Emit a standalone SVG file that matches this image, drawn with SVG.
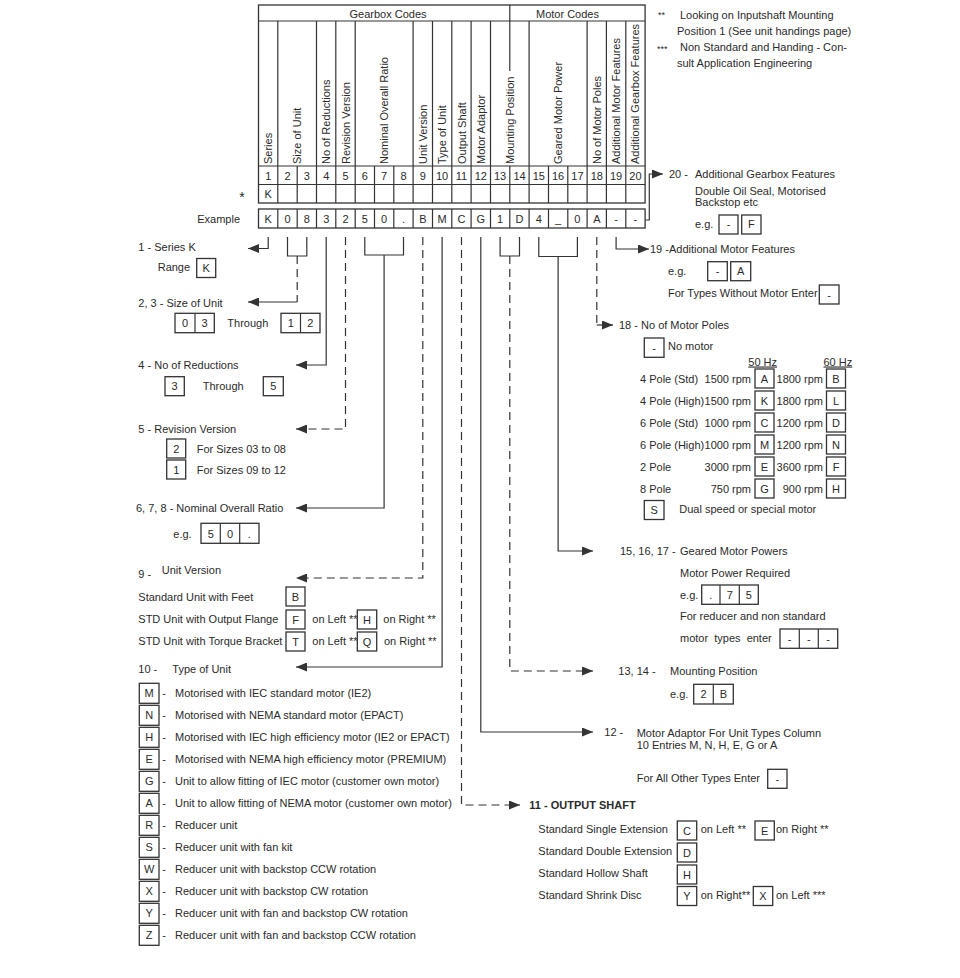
<svg xmlns="http://www.w3.org/2000/svg" width="960" height="978" viewBox="0 0 960 978">
<style>
text{font-family:"Liberation Sans",Arial,sans-serif;font-size:11px;fill:#2b2b2b}
.c{text-anchor:middle}
.e{text-anchor:end}
.b{font-weight:bold}
.ln{fill:none;stroke:#333;stroke-width:1.2}
.bx{fill:#fff;stroke:#333;stroke-width:1.3}
.cn{fill:none;stroke:#333;stroke-width:1.2}
.d{stroke-dasharray:8 5}
.ar{marker-end:url(#ah)}
.sm{font-size:9px}
</style>
<defs>
<marker id="ah" viewBox="0 0 11 9" refX="11" refY="4.5" markerWidth="11" markerHeight="9" orient="auto" markerUnits="userSpaceOnUse"><path d="M0,0L11,4.5L0,9z" fill="#333"/></marker>
</defs>
<rect width="960" height="978" fill="#fff"/>

<g id="code-table">
<rect class="bx" x="258.5" y="5" width="386.6" height="198"/>
<path class="ln" d="M258.5,21H645.1M258.5,166H645.1M258.5,184.5H645.1M509.8,5V71
M277.8,21V166M316.5,21V166M335.8,21V166M355.2,21V166M413.1,21V166M432.5,21V166M451.8,21V166M471.1,21V166M490.5,21V166M529.1,21V166M587.1,21V166M606.4,21V166M625.8,21V166
M277.8,166V203M297.2,166V203M316.5,166V203M335.8,166V203M355.2,166V203M374.5,166V203M393.8,166V203M413.1,166V203M432.5,166V203M451.8,166V203M471.1,166V203M490.5,166V203M509.8,166V203M529.1,166V203M548.5,166V203M567.8,166V203M587.1,166V203M606.4,166V203M625.8,166V203"/>
<text class="c" x="388" y="18">Gearbox Codes</text>
<text class="c" x="567.5" y="18">Motor Codes</text>
<text transform="translate(272.2,164) rotate(-90)">Series</text>
<text transform="translate(301.2,164) rotate(-90)">Size of Unit</text>
<text transform="translate(330.2,164) rotate(-90)">No of Reductions</text>
<text transform="translate(349.5,164) rotate(-90)">Revision Version</text>
<text transform="translate(388.1,164) rotate(-90)">Nominal Overall Ratio</text>
<text transform="translate(426.8,164) rotate(-90)">Unit Version</text>
<text transform="translate(446.1,164) rotate(-90)">Type of Unit</text>
<text transform="translate(465.5,164) rotate(-90)">Output Shaft</text>
<text transform="translate(484.8,164) rotate(-90)">Motor Adaptor</text>
<text transform="translate(513.8,164) rotate(-90)">Mounting Position</text>
<text transform="translate(562.1,164) rotate(-90)">Geared Motor Power</text>
<text transform="translate(600.8,164) rotate(-90)">No of Motor Poles</text>
<text transform="translate(620.1,164) rotate(-90)">Additional Motor Features</text>
<text transform="translate(639.4,164) rotate(-90)">Additional Gearbox Features</text>
<g class="c">
<text x="268.2" y="179.5">1</text><text x="287.5" y="179.5">2</text><text x="306.8" y="179.5">3</text><text x="326.2" y="179.5">4</text><text x="345.5" y="179.5">5</text><text x="364.8" y="179.5">6</text><text x="384.1" y="179.5">7</text><text x="403.5" y="179.5">8</text><text x="422.8" y="179.5">9</text><text x="442.1" y="179.5">10</text><text x="461.5" y="179.5">11</text><text x="480.8" y="179.5">12</text><text x="500.1" y="179.5">13</text><text x="519.5" y="179.5">14</text><text x="538.8" y="179.5">15</text><text x="558.1" y="179.5">16</text><text x="577.4" y="179.5">17</text><text x="596.8" y="179.5">18</text><text x="616.1" y="179.5">19</text><text x="635.4" y="179.5">20</text>
<text x="268.2" y="198">K</text>
</g>
<text x="242" y="202" class="c" style="font-size:14px">*</text>
</g>

<g id="example-row">
<text class="e" x="240" y="222.5">Example</text>
<rect class="bx" x="258.5" y="209" width="386.6" height="19"/>
<path class="ln" d="M277.8,209V228M297.2,209V228M316.5,209V228M335.8,209V228M355.2,209V228M374.5,209V228M393.8,209V228M413.1,209V228M432.5,209V228M451.8,209V228M471.1,209V228M490.5,209V228M509.8,209V228M529.1,209V228M548.5,209V228M567.8,209V228M587.1,209V228M606.4,209V228M625.8,209V228"/>
<g class="c">
<text x="268.2" y="222.5">K</text><text x="287.5" y="222.5">0</text><text x="306.8" y="222.5">8</text><text x="326.2" y="222.5">3</text><text x="345.5" y="222.5">2</text><text x="364.8" y="222.5">5</text><text x="384.1" y="222.5">0</text><text x="403.5" y="222.5">.</text><text x="422.8" y="222.5">B</text><text x="442.1" y="222.5">M</text><text x="461.5" y="222.5">C</text><text x="480.8" y="222.5">G</text><text x="500.1" y="222.5">1</text><text x="519.5" y="222.5">D</text><text x="538.8" y="222.5">4</text><text x="558.1" y="222.5">_</text><text x="577.4" y="222.5">0</text><text x="596.8" y="222.5">A</text><text x="616.1" y="222.5">-</text><text x="635.4" y="222.5">-</text>
</g>
</g>

<g id="footnotes">
<text class="sm" x="658" y="18">**</text>
<text x="680" y="18.5">Looking on Inputshaft Mounting</text>
<text x="677" y="35">Position 1 (See unit handings page)</text>
<text class="sm" x="657" y="52">***</text>
<text x="680" y="51">Non Standard and Handing - Con-</text>
<text x="677" y="67">sult Application Engineering</text>
</g>

<g id="connectors">
<path class="cn ar" d="M268.2,237V248.5H248"/>
<path class="cn" d="M287.5,237V256H306.8V237"/>
<path class="cn d" d="M297.2,256V302"/>
<path class="cn ar" d="M297.2,302H248"/>
<path class="cn ar" d="M326.2,237V365H296"/>
<path class="cn d ar" d="M345.5,237V429H296"/>
<path class="cn" d="M364.8,237V255H403.5V237"/>
<path class="cn ar" d="M384.1,255V508H296"/>
<path class="cn d ar" d="M422.8,237V578H296"/>
<path class="cn ar" d="M442.1,237V667H296"/>
<path class="cn d ar" d="M461.5,237V805H520"/>
<path class="cn ar" d="M480.8,237V732H593"/>
<path class="cn" d="M500.1,237V256H519.5V237"/>
<path class="cn d ar" d="M509.8,256V671H593"/>
<path class="cn" d="M538.8,237V256.5H577.4V237"/>
<path class="cn ar" d="M558.1,256.5V551H593"/>
<path class="cn d" d="M596.8,237V325"/>
<path class="cn ar" d="M596.8,325H613"/>
<path class="cn ar" d="M616.1,237V249H649"/>
<path class="cn ar" d="M645.1,220H649.3V174H663"/>
</g>

<g id="sec-1">
<text x="138.3" y="250.5">1 - Series K</text>
<text x="157.7" y="270.7">Range</text>
<rect class="bx" x="196.7" y="258.5" width="19" height="19"/><text class="c" x="206.2" y="272">K</text>
</g>

<g id="sec-2-3">
<text x="138.3" y="306.5">2, 3 -  Size of Unit</text>
<rect class="bx" x="175" y="313.3" width="39.3" height="19.4"/><path class="ln" d="M195,313.3V332.7"/>
<text class="c" x="185" y="327">0</text><text class="c" x="204.6" y="327">3</text>
<text x="227.3" y="327.3">Through</text>
<rect class="bx" x="281" y="313.3" width="39" height="19.4"/><path class="ln" d="M300.5,313.3V332.7"/>
<text class="c" x="290.7" y="327">1</text><text class="c" x="310.2" y="327">2</text>
</g>

<g id="sec-4">
<text x="138.3" y="369">4 -  No of Reductions</text>
<rect class="bx" x="165" y="376.7" width="19.3" height="19"/><text class="c" x="174.6" y="390">3</text>
<text x="202.7" y="390">Through</text>
<rect class="bx" x="263.3" y="376.7" width="20" height="19"/><text class="c" x="273.3" y="390">5</text>
</g>

<g id="sec-5">
<text x="138.3" y="433">5 -  Revision Version</text>
<rect class="bx" x="166.7" y="439" width="19" height="19"/><text class="c" x="176.2" y="452.5">2</text>
<text x="196.7" y="453.3">For Sizes 03 to 08</text>
<rect class="bx" x="166.7" y="460" width="19" height="19"/><text class="c" x="176.2" y="473.5">1</text>
<text x="196.7" y="474">For Sizes 09 to 12</text>
</g>

<g id="sec-6-8">
<text x="136" y="512.3">6, 7, 8 - Nominal Overall Ratio</text>
<text x="173.3" y="538">e.g.</text>
<rect class="bx" x="201" y="523.3" width="58" height="20"/><path class="ln" d="M220.3,523.3V543.3M239.7,523.3V543.3"/>
<text class="c" x="210.7" y="537.5">5</text><text class="c" x="230" y="537.5">0</text><text class="c" x="249.3" y="537.5">.</text>
</g>

<g id="sec-9">
<text x="138.3" y="578">9 -</text>
<text x="161.7" y="574">Unit Version</text>
<text x="138.3" y="600.7">Standard Unit with Feet</text>
<rect class="bx" x="286" y="587" width="19" height="19"/><text class="c" x="295.5" y="600.5">B</text>
<text x="138.3" y="623">STD Unit with Output Flange</text>
<rect class="bx" x="286" y="610" width="19" height="19"/><text class="c" x="295.5" y="623.5">F</text>
<text x="312.3" y="623">on Left **</text>
<rect class="bx" x="357.3" y="610" width="19.4" height="19"/><text class="c" x="367" y="623.5">H</text>
<text x="383.3" y="623">on Right **</text>
<text x="138.3" y="644.7">STD Unit with Torque Bracket</text>
<rect class="bx" x="286" y="632" width="19" height="19"/><text class="c" x="295.5" y="645.5">T</text>
<text x="312.3" y="644.7">on Left **</text>
<rect class="bx" x="357.3" y="632" width="19.4" height="19"/><text class="c" x="367" y="645.5">Q</text>
<text x="384" y="644.7">on Right **</text>
</g>

<g id="sec-10">
<text x="138.3" y="673">10 -</text>
<text x="172.3" y="673">Type of Unit</text>
<rect class="bx" x="139.3" y="683.3" width="19.7" height="20"/><text class="c" x="149.2" y="697.3">M</text><text x="162.3" y="697.3">-</text><text x="175" y="697.3">Motorised with IEC standard motor (IE2)</text>
<rect class="bx" x="139.3" y="705.3" width="19.7" height="20"/><text class="c" x="149.2" y="719.3">N</text><text x="162.3" y="719.3">-</text><text x="175" y="719.3">Motorised with NEMA standard motor (EPACT)</text>
<rect class="bx" x="139.3" y="727.3" width="19.7" height="20"/><text class="c" x="149.2" y="741.3">H</text><text x="162.3" y="741.3">-</text><text x="175" y="741.3">Motorised with IEC high efficiency motor (IE2 or EPACT)</text>
<rect class="bx" x="139.3" y="749.3" width="19.7" height="20"/><text class="c" x="149.2" y="763.3">E</text><text x="162.3" y="763.3">-</text><text x="175" y="763.3">Motorised with NEMA high efficiency motor (PREMIUM)</text>
<rect class="bx" x="139.3" y="771.3" width="19.7" height="20"/><text class="c" x="149.2" y="785.3">G</text><text x="162.3" y="785.3">-</text><text x="175" y="785.3">Unit to allow fitting of IEC motor (customer own motor)</text>
<rect class="bx" x="139.3" y="793.3" width="19.7" height="20"/><text class="c" x="149.2" y="807.3">A</text><text x="162.3" y="807.3">-</text><text x="175" y="807.3">Unit to allow fitting of NEMA motor (customer own motor)</text>
<rect class="bx" x="139.3" y="815.3" width="19.7" height="20"/><text class="c" x="149.2" y="829.3">R</text><text x="162.3" y="829.3">-</text><text x="175" y="829.3">Reducer unit</text>
<rect class="bx" x="139.3" y="837.3" width="19.7" height="20"/><text class="c" x="149.2" y="851.3">S</text><text x="162.3" y="851.3">-</text><text x="175" y="851.3">Reducer unit with fan kit</text>
<rect class="bx" x="139.3" y="859.3" width="19.7" height="20"/><text class="c" x="149.2" y="873.3">W</text><text x="162.3" y="873.3">-</text><text x="175" y="873.3">Reducer unit with backstop CCW rotation</text>
<rect class="bx" x="139.3" y="881.3" width="19.7" height="20"/><text class="c" x="149.2" y="895.3">X</text><text x="162.3" y="895.3">-</text><text x="175" y="895.3">Reducer unit with backstop CW rotation</text>
<rect class="bx" x="139.3" y="903.3" width="19.7" height="20"/><text class="c" x="149.2" y="917.3">Y</text><text x="162.3" y="917.3">-</text><text x="175" y="917.3">Reducer unit with fan and backstop CW rotation</text>
<rect class="bx" x="139.3" y="925.3" width="19.7" height="20"/><text class="c" x="149.2" y="939.3">Z</text><text x="162.3" y="939.3">-</text><text x="175" y="939.3">Reducer unit with fan and backstop CCW rotation</text>
</g>

<g id="sec-20">
<text x="669" y="178">20 -</text>
<text x="695" y="178">Additional Gearbox Features</text>
<text x="695" y="194.5">Double Oil Seal, Motorised</text>
<text x="695" y="205.5">Backstop etc</text>
<text x="695" y="227.5">e.g.</text>
<rect class="bx" x="719" y="215" width="19" height="19"/><text class="c" x="728.5" y="228">-</text>
<rect class="bx" x="741.7" y="215" width="19.3" height="19"/><text class="c" x="751.3" y="228">F</text>
</g>

<g id="sec-19">
<text x="650" y="253">19 -Additional Motor Features</text>
<text x="668" y="275">e.g.</text>
<rect class="bx" x="707.7" y="261.7" width="19.6" height="19"/><text class="c" x="717.5" y="275">-</text>
<rect class="bx" x="730.7" y="261.7" width="20" height="19"/><text class="c" x="740.7" y="275">A</text>
<text x="668" y="297">For Types Without Motor Enter</text>
<rect class="bx" x="819.3" y="285" width="19.7" height="19"/><text class="c" x="829.2" y="298.5">-</text>
</g>

<g id="sec-18">
<text x="619" y="328.5">18 - No of Motor Poles</text>
<rect class="bx" x="644.3" y="338" width="19.7" height="19.3"/><text class="c" x="654.2" y="351.5">-</text>
<text x="668" y="350">No motor</text>
<text x="748.3" y="365.5" text-decoration="underline">50 Hz</text>
<text x="823.5" y="365.5" text-decoration="underline">60 Hz</text>
<text x="640" y="382.5">4 Pole (Std)</text><text class="e" x="751" y="382.5">1500 rpm</text>
<rect class="bx" x="755" y="369" width="19" height="19"/><text class="c" x="764.5" y="382.5">A</text>
<text class="e" x="823" y="382.5">1800 rpm</text>
<rect class="bx" x="826.5" y="369" width="19" height="19"/><text class="c" x="836" y="382.5">B</text>
<text x="640" y="404.5">4 Pole (High)</text><text class="e" x="751" y="404.5">1500 rpm</text>
<rect class="bx" x="755" y="391" width="19" height="19"/><text class="c" x="764.5" y="404.5">K</text>
<text class="e" x="823" y="404.5">1800 rpm</text>
<rect class="bx" x="826.5" y="391" width="19" height="19"/><text class="c" x="836" y="404.5">L</text>
<text x="640" y="426.5">6 Pole (Std)</text><text class="e" x="751" y="426.5">1000 rpm</text>
<rect class="bx" x="755" y="413" width="19" height="19"/><text class="c" x="764.5" y="426.5">C</text>
<text class="e" x="823" y="426.5">1200 rpm</text>
<rect class="bx" x="826.5" y="413" width="19" height="19"/><text class="c" x="836" y="426.5">D</text>
<text x="640" y="448.5">6 Pole (High)</text><text class="e" x="751" y="448.5">1000 rpm</text>
<rect class="bx" x="755" y="435" width="19" height="19"/><text class="c" x="764.5" y="448.5">M</text>
<text class="e" x="823" y="448.5">1200 rpm</text>
<rect class="bx" x="826.5" y="435" width="19" height="19"/><text class="c" x="836" y="448.5">N</text>
<text x="640" y="470.5">2 Pole</text><text class="e" x="751" y="470.5">3000 rpm</text>
<rect class="bx" x="755" y="457" width="19" height="19"/><text class="c" x="764.5" y="470.5">E</text>
<text class="e" x="823" y="470.5">3600 rpm</text>
<rect class="bx" x="826.5" y="457" width="19" height="19"/><text class="c" x="836" y="470.5">F</text>
<text x="640" y="492.5">8 Pole</text><text class="e" x="751" y="492.5">750 rpm</text>
<rect class="bx" x="755" y="479" width="19" height="19"/><text class="c" x="764.5" y="492.5">G</text>
<text class="e" x="823" y="492.5">900 rpm</text>
<rect class="bx" x="826.5" y="479" width="19" height="19"/><text class="c" x="836" y="492.5">H</text>
<rect class="bx" x="644.3" y="500.5" width="19.7" height="19"/><text class="c" x="654.2" y="514">S</text>
<text x="679.3" y="513">Dual speed or special motor</text>
</g>

<g id="sec-15-17">
<text x="620" y="554.5">15, 16, 17 -</text>
<text x="680" y="554.5">Geared Motor Powers</text>
<text x="680" y="576.5">Motor Power Required</text>
<text x="680" y="599">e.g.</text>
<rect class="bx" x="701.7" y="585" width="56.6" height="19.3"/><path class="ln" d="M720,585V604.3M739.3,585V604.3"/>
<text class="c" x="710.8" y="598.5">.</text><text class="c" x="729.7" y="598.5">7</text><text class="c" x="748.8" y="598.5">5</text>
<text x="680" y="620">For reducer and non standard</text>
<text x="680" y="642" xml:space="preserve">motor  types  enter</text>
<rect class="bx" x="780" y="629" width="57.7" height="19.3"/><path class="ln" d="M799.3,629V648.3M818.3,629V648.3"/>
<text class="c" x="789.7" y="642.5">-</text><text class="c" x="808.8" y="642.5">-</text><text class="c" x="828" y="642.5">-</text>
</g>

<g id="sec-13-14">
<text x="618.3" y="675">13, 14 -</text>
<text x="670" y="675">Mounting Position</text>
<text x="670" y="697.5">e.g.</text>
<rect class="bx" x="693.7" y="684.3" width="39.6" height="19.7"/><path class="ln" d="M713.3,684.3V704"/>
<text class="c" x="703.5" y="698">2</text><text class="c" x="723.3" y="698">B</text>
</g>

<g id="sec-12">
<text x="604.3" y="736">12 -</text>
<text x="636.7" y="737">Motor Adaptor For Unit Types Column</text>
<text x="636.7" y="748.5">10 Entries M, N, H, E, G or A</text>
<text x="636.7" y="782">For All Other Types Enter</text>
<rect class="bx" x="767.7" y="769.3" width="19.3" height="19"/><text class="c" x="777.3" y="782.5">-</text>
</g>

<g id="sec-11">
<text class="b" x="529.3" y="809">11 - OUTPUT SHAFT</text>
<text x="538.3" y="833">Standard Single Extension</text>
<rect class="bx" x="677.3" y="821" width="19.4" height="19"/><text class="c" x="687" y="834.5">C</text>
<text x="700.7" y="833">on Left **</text>
<rect class="bx" x="755" y="821" width="19.3" height="19"/><text class="c" x="764.7" y="834.5">E</text>
<text x="776" y="833">on Right **</text>
<text x="538.3" y="855">Standard Double Extension</text>
<rect class="bx" x="677.3" y="843" width="19.4" height="19"/><text class="c" x="687" y="856.5">D</text>
<text x="538.3" y="876.7">Standard Hollow Shaft</text>
<rect class="bx" x="677.3" y="865" width="19.4" height="19"/><text class="c" x="687" y="878.5">H</text>
<text x="538.3" y="899">Standard Shrink Disc</text>
<rect class="bx" x="677.3" y="886.5" width="19.4" height="19"/><text class="c" x="687" y="900">Y</text>
<text x="700.7" y="899">on Right**</text>
<rect class="bx" x="753.3" y="886.5" width="19.4" height="19"/><text class="c" x="763" y="900">X</text>
<text x="776" y="899">on Left ***</text>
</g>
</svg>
